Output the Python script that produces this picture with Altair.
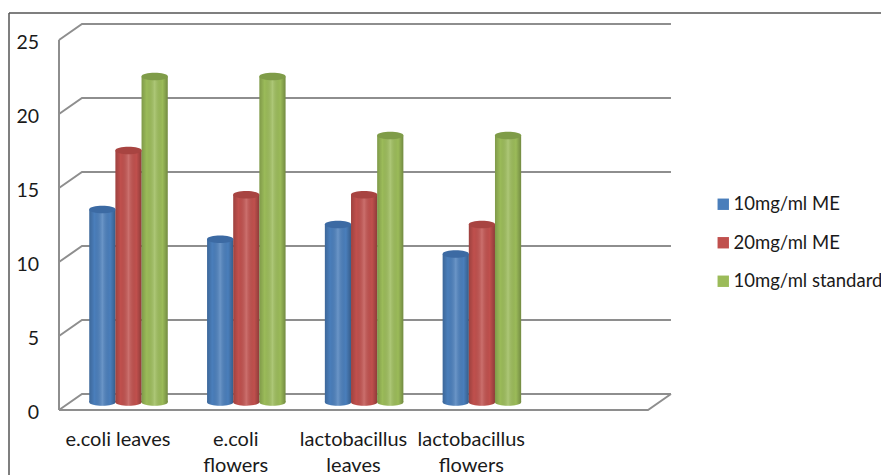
import altair as alt
import pandas as pd

categories = ["e.coli leaves", "e.coli\nflowers", "lactobacillus\nleaves", "lactobacillus\nflowers"]
series = ["10mg/ml ME", "20mg/ml ME", "10mg/ml standard"]
me10 = [13, 11, 12, 10]
me20 = [17, 14, 14, 12]
std10 = [22, 22, 18, 18]
colors = ["#4a7ebb", "#c0504d", "#9bbb59"]
cap_colors = ["#3c6aa3", "#a84441", "#7f9c48"]
y_ticks = [0, 5, 10, 15, 20, 25]
x_ticks = [0, 1, 2, 3, 4, 5]

W, H = 873, 467
GREY = "#8e8e8e"
FONT = "Lato"
x_scale = alt.Scale(domain=[-51 / 117.8, 822 / 117.8], nice=False, zero=False)
y_scale = alt.Scale(domain=[-65 / 14.8, 402 / 14.8], nice=False, zero=False)

rows = []
for i, cat in enumerate(categories):
    for s, vals in enumerate([me10, me20, std10]):
        c = i + 0.5 + 0.09 + (s - 1) * 0.222
        rows.append(dict(cat=cat, series=series[s], value=vals[i], x0=c - 0.111, x1=c + 0.111,
                         xc=c, base=0, cap=cap_colors[s], order=s))
bars = pd.DataFrame(rows)
labels = pd.DataFrame({"cat": categories, "xc": [i + 0.5 for i in range(len(categories))]})
y_labels = pd.DataFrame({"v": y_ticks, "x": [0] * len(y_ticks)})

DX, DY = 0.195, 1.08
grid_rows = []
for v in y_ticks:
    grid_rows += [dict(v=v, k=0, x=0, y=v), dict(v=v, k=1, x=DX, y=v + DY), dict(v=v, k=2, x=5 + DX, y=v + DY)]
grid = pd.DataFrame(grid_rows)
floor = pd.DataFrame([dict(k=0, x=0, y=0), dict(k=1, x=5, y=0), dict(k=2, x=5 + DX, y=DY)])
axis_line = pd.DataFrame({"x": [0], "y": [0], "y2": [25]})

X = lambda f: alt.X(f, type="quantitative", scale=x_scale, axis=None)
Y = lambda f: alt.Y(f, type="quantitative", scale=y_scale, axis=None)

frame_l = alt.Chart(axis_line).mark_rule(color="#555555", strokeWidth=1.5).encode(
    x=alt.value(1), y=alt.value(5), y2=alt.value(H))
frame_t = alt.Chart(axis_line).mark_rule(color="#555555", strokeWidth=1.5).encode(
    x=alt.value(1), x2=alt.value(W), y=alt.value(5))

axes = alt.Chart(axis_line).mark_rule(color=GREY, strokeWidth=2).encode(
    x=alt.X("x:Q", scale=x_scale, axis=alt.Axis(
        values=x_ticks, offset=-65, labels=False, title=None, domain=False, grid=False,
        ticks=True, tickSize=6, tickColor=GREY, tickWidth=2)),
    y=alt.Y("y:Q", scale=y_scale, axis=alt.Axis(
        values=y_ticks, offset=-51, labels=False, title=None, domain=False, grid=False, ticks=True, tickSize=7,
        tickColor=GREY, tickWidth=2)),
    y2="y2:Q",
)
y_text = alt.Chart(y_labels).mark_text(
    font=FONT, fontSize=19.5, color="#1a1a1a", align="right", baseline="middle", dx=-20, dy=3
).encode(x=X("x"), y=Y("v"), text="v:Q")

grid_lines = alt.Chart(grid).mark_line(color=GREY, strokeWidth=2).encode(
    x=X("x"), y=Y("y"), detail="v:N", order="k:Q")
floor_line = alt.Chart(floor).mark_line(color=GREY, strokeWidth=2).encode(
    x=X("x"), y=Y("y"), order="k:Q")

color = alt.Color("series:N", scale=alt.Scale(domain=series, range=colors), legend=alt.Legend(
    title=None, orient="none", legendX=706, legendY=187, padding=0, symbolType="square", symbolSize=130,
    symbolStrokeWidth=0, labelFont=FONT, labelFontSize=18.5, labelColor="#1a1a1a", rowPadding=19.5, labelOffset=1,
    labelLimit=300))

ELLIPSE = "M-1,0 C-1,-0.38 1,-0.38 1,0 C1,0.38 -1,0.38 -1,0 Z"
shade = alt.Gradient(gradient="linear", x1=0, x2=1, y1=0, y2=0, stops=[
    alt.GradientStop(color="rgba(0,0,0,0.18)", offset=0),
    alt.GradientStop(color="rgba(0,0,0,0)", offset=0.2),
    alt.GradientStop(color="rgba(255,255,255,0.18)", offset=0.5),
    alt.GradientStop(color="rgba(0,0,0,0)", offset=0.8),
    alt.GradientStop(color="rgba(0,0,0,0.26)", offset=1),
])

bottoms = alt.Chart(bars).mark_point(shape=ELLIPSE, filled=True, size=690, opacity=1, yOffset=-8).encode(
    x=X("xc"), y=Y("base"), color=alt.Color("series:N", scale=alt.Scale(domain=series, range=colors), legend=None))
bottoms_shade = alt.Chart(bars).mark_point(shape=ELLIPSE, filled=True, size=690, opacity=1, yOffset=-8, fill=shade).encode(
    x=X("xc"), y=Y("base"))
body = alt.Chart(bars).mark_bar(yOffset=-8, y2Offset=-8).encode(
    x=X("x0"), x2="x1:Q", y=Y("value"), y2="base:Q", color=color)
body_shade = alt.Chart(bars).mark_bar(yOffset=-8, y2Offset=-8, fill=shade).encode(
    x=X("x0"), x2="x1:Q", y=Y("value"), y2="base:Q")
caps = alt.Chart(bars).mark_point(shape=ELLIPSE, filled=True, size=690, opacity=1, yOffset=-8).encode(
    x=X("xc"), y=Y("value"), color=alt.Color("cap:N", scale=None))

cat_text = alt.Chart(labels).mark_text(
    font=FONT, fontSize=20, color="#1a1a1a", lineBreak="\n", lineHeight=26, baseline="top", align="center"
).encode(x=X("xc"), y=alt.value(422), text="cat:N")

chart = alt.layer(
    frame_l, frame_t, axes, y_text, grid_lines, floor_line, bottoms, bottoms_shade, body, body_shade, caps, cat_text
).resolve_scale(color="independent").properties(
    width=W, height=H, padding=0, autosize=alt.AutoSizeParams(type="none"), background="white"
).configure_view(stroke=None)

chart.save("out.html", embed_options={"renderer": "svg", "actions": False})
